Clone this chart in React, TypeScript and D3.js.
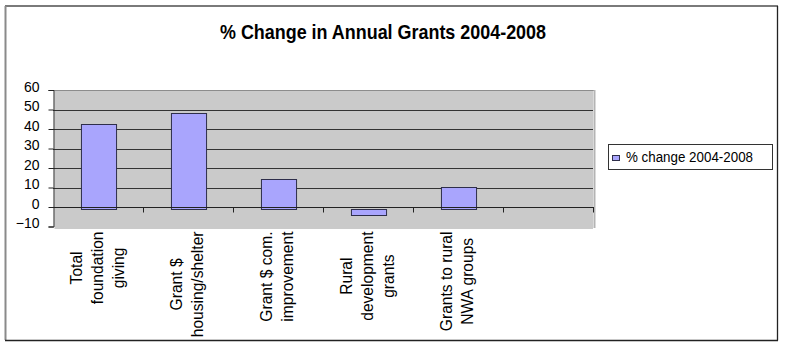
import React, {useEffect, useRef} from 'react';
import * as d3 from 'd3';

const categories: string[] = [
  'Total\nfoundation\ngiving',
  'Grant $\nhousing/shelter',
  'Grant $ com.\nimprovement',
  'Rural\ndevelopment\ngrants',
  'Grants to rural\nNWA groups',
  '',
];
const values: (number | null)[] = [42.4, 48, 14.3, -4, 10.2, null];
const yTicks: number[] = [-10, 0, 10, 20, 30, 40, 50, 60];
const seriesName = '% change 2004-2008';
const title = '% Change in Annual Grants 2004-2008';

const FONT = '"Liberation Sans", Arial, sans-serif';
const BAR_FILL = '#a9a5fd';

const App = () => {
  const refObject: any = useRef();

  useEffect(() => {
    const width = 789;
    const height = 354;
    const plot = {left: 53, right: 593, top: 90, bottom: 226.5};

    const svg: any = d3.select(refObject.current)
      .call((g: any) => g.select('svg').remove())
      .append('svg')
      .attr('width', width)
      .attr('height', height)
      .style('position', 'absolute')
      .style('left', 0)
      .style('top', 0)
      .style('font-family', FONT);

    svg.append('rect').attr('width', width).attr('height', height).attr('fill', '#fff');

    // outer frame
    svg.append('line').attr('x1', 5).attr('x2', 778).attr('y1', 6).attr('y2', 6)
      .attr('stroke', '#7a7a7a').attr('stroke-width', 2);
    svg.append('line').attr('x1', 5.5).attr('x2', 5.5).attr('y1', 6).attr('y2', 340)
      .attr('stroke', '#8a8a8a').attr('stroke-width', 2);
    svg.append('line').attr('x1', 777.5).attr('x2', 777.5).attr('y1', 6).attr('y2', 340.5)
      .attr('stroke', '#222').attr('stroke-width', 1.3);
    svg.append('line').attr('x1', 5).attr('x2', 778).attr('y1', 340.5).attr('y2', 340.5)
      .attr('stroke', '#222').attr('stroke-width', 1.3);

    // title
    svg.append('text')
      .attr('x', 220).attr('y', 38.5)
      .attr('textLength', 326).attr('lengthAdjust', 'spacingAndGlyphs')
      .attr('font-size', 21).attr('font-weight', 'bold')
      .attr('fill', '#000')
      .text(title);

    const x = d3.scaleBand()
      .domain(categories.map((_, i) => String(i)))
      .range([plot.left, plot.right])
      .padding(0);

    const y = d3.scaleLinear()
      .domain([-10, 60])
      .range([plot.bottom, plot.top]);

    // plot area
    svg.append('rect')
      .attr('x', plot.left + 1.5).attr('y', y(60) + 1)
      .attr('width', plot.right - plot.left - 1.5).attr('height', y(-10) - y(60) + 1.5)
      .attr('fill', '#cacaca');
    svg.append('line')
      .attr('x1', plot.left).attr('x2', plot.right + 1)
      .attr('y1', y(60) + 0.5).attr('y2', y(60) + 0.5)
      .attr('stroke', '#8c8c8c');
    svg.append('line')
      .attr('x1', plot.right + 1.5).attr('x2', plot.right + 1.5)
      .attr('y1', y(60)).attr('y2', y(-10) + 1.5)
      .attr('stroke', '#b4b4b4').attr('stroke-width', 2);

    // gridlines
    svg.append('g')
      .selectAll('line')
      .data(yTicks.filter(t => t > 0 && t < 60))
      .join('line')
      .attr('x1', plot.left).attr('x2', plot.right)
      .attr('y1', (d: number) => Math.round(y(d)) + 0.5)
      .attr('y2', (d: number) => Math.round(y(d)) + 0.5)
      .attr('stroke', '#333').attr('stroke-width', 1.1);

    // bars
    const barW = x.bandwidth() * 0.39;
    svg.append('g')
      .selectAll('rect')
      .data(values.map((v, i) => ({v, i})).filter(d => d.v !== null))
      .join('rect')
      .attr('x', (d: any) => (x(String(d.i)) as number) + (x.bandwidth() - barW) / 2 + 1)
      .attr('y', (d: any) => d.v >= 0 ? Math.round(y(d.v)) + 0.5 : Math.round(y(0)) + 2.5)
      .attr('width', barW)
      .attr('height', (d: any) => d.v >= 0
        ? Math.round(y(0)) + 2 - Math.round(y(d.v))
        : Math.round(y(d.v)) - Math.round(y(0)) - 2)
      .attr('fill', BAR_FILL)
      .attr('stroke', '#2e2e4a').attr('stroke-width', 1);

    // y axis
    svg.append('g')
      .attr('transform', `translate(${plot.left + 0.5},0)`)
      .call(d3.axisLeft(y).tickValues(yTicks).tickSize(5).tickPadding(9).tickFormat(d3.format('d')))
      .call((g: any) => g.selectAll('line, path').attr('stroke', '#222'))
      .call((g: any) => g.selectAll('text')
        .attr('font-family', FONT).attr('font-size', 14).attr('fill', '#000').attr('dy', '0.1em'));

    // x axis line at zero with ticks at band boundaries
    const xAxis = svg.append('g').attr('transform', `translate(0,${Math.round(y(0)) + 0.5})`);
    xAxis.append('line').attr('x1', plot.left).attr('x2', plot.right + 1)
      .attr('stroke', '#222');
    xAxis.selectAll('line.tick')
      .data(categories.map((_, i) => String(i)))
      .join('line')
      .attr('class', 'tick')
      .attr('x1', (d: string) => Math.round((x(d) as number) + x.bandwidth()) + 0.5)
      .attr('x2', (d: string) => Math.round((x(d) as number) + x.bandwidth()) + 0.5)
      .attr('y1', 0).attr('y2', 5)
      .attr('stroke', '#222');

    // category labels, rotated
    categories.forEach((c, i) => {
      if (!c) return;
      const lines = c.split('\n');
      const cx = (x(String(i)) as number) + x.bandwidth() / 2 - 1;
      const lineGap = 21;
      const g = svg.append('g');
      const texts = lines.map((line, k) => g.append('text')
        .attr('text-anchor', 'middle')
        .attr('dy', '0.36em')
        .attr('font-size', 15.6)
        .attr('fill', '#000')
        .text(line)
        .attr('data-x', cx + (k - (lines.length - 1) / 2) * lineGap));
      const maxLen = d3.max(texts, (t: any) => t.node().getComputedTextLength()) as number;
      const cy = 231.5 + maxLen / 2;
      texts.forEach((t: any) => {
        t.attr('transform', `translate(${t.attr('data-x')},${cy}) rotate(-90)`);
      });
    });

    // legend
    const legend = svg.append('g');
    legend.append('rect')
      .attr('x', 608.5).attr('y', 144.5).attr('width', 164).attr('height', 25)
      .attr('fill', '#fff').attr('stroke', '#333');
    legend.append('rect')
      .attr('x', 612.5).attr('y', 155.5).attr('width', 7).attr('height', 5)
      .attr('fill', BAR_FILL).attr('stroke', '#2e2e4a');
    legend.append('text')
      .attr('x', 626).attr('y', 161.5)
      .attr('font-size', 14).attr('fill', '#000')
      .attr('textLength', 127).attr('lengthAdjust', 'spacingAndGlyphs')
      .text(seriesName);
  }, []);

  return <div ref={refObject}/>;
};

export default App;
